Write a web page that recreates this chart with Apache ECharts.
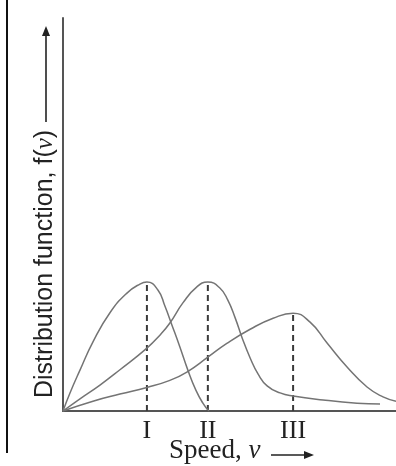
<!DOCTYPE html>
<html>
<head>
<meta charset="utf-8">
<script src="https://cdn.jsdelivr.net/npm/echarts@6/dist/echarts.min.js"></script>
<style>
html,body{margin:0;padding:0;background:#fff;}
#chart{width:396px;height:466px;}
</style>
</head>
<body>
<div id="chart"></div>
<script>
// Curve I
const speedI = [0, 2.1, 5.1, 9.0, 14.1, 19.2, 23.1, 25.2, 28.5, 30.6, 32.7, 35.1, 37.5, 39.9, 42.0, 43.8];
const fI     = [0, 4.6, 10.4, 17.6, 25.0, 30.0, 32.3, 32.8, 30.8, 26.7, 21.9, 16.3, 10.4, 5.3, 2.0, 0];
// Curve II
const speedII = [0, 5.1, 11.1, 17.1, 25.2, 29.1, 32.1, 36.0, 40.2, 43.5, 47.1, 49.5, 51.7, 53.8, 56.2, 58.6, 61.3, 65.2, 69.1, 78.1, 88.3, 95.2];
const fII     = [0, 3.1, 6.6, 10.5, 16.0, 19.3, 22.4, 27.5, 31.6, 32.8, 31.3, 28.2, 23.7, 18.6, 13.5, 9.4, 6.4, 4.6, 3.8, 2.8, 2.0, 1.8];
// Curve III
const speedIII = [0, 9.0, 17.1, 25.2, 32.1, 37.2, 43.5, 49.2, 56.2, 63.1, 69.1, 74.2, 79.3, 85.3, 91.3, 96.1, 100];
const fIII     = [0, 2.5, 4.3, 6.0, 7.8, 9.9, 13.7, 17.2, 20.8, 23.6, 24.9, 22.6, 17.3, 11.2, 6.1, 3.6, 2.5];
// Tick labels (one per curve, at each curve's peak)
const tickLabels = ['I', 'II', 'III'];

const curves = [[speedI, fI], [speedII, fII], [speedIII, fIII]];
const peaks = curves.map(([xs, ys]) => {
  let k = 0;
  ys.forEach((v, i) => { if (v > ys[k]) k = i; });
  return [xs[k], ys[k]];
});
const peakX = peaks.map(p => p[0]);

const curveColor = '#747474';
const series = [];
curves.forEach(([xs, ys]) => {
  series.push({
    type: 'line',
    data: xs.map((x, i) => [x, ys[i]]),
    smooth: 0.5,
    showSymbol: false,
    lineStyle: { color: curveColor, width: 1.5 },
    silent: true,
    z: 3
  });
});
peaks.forEach(p => {
  series.push({
    type: 'line',
    data: [[p[0], 0], [p[0], p[1]]],
    showSymbol: false,
    lineStyle: { color: '#3a3a3a', width: 2, type: [6, 4] },
    silent: true,
    z: 2
  });
});

const chart = echarts.init(document.getElementById('chart'), null, { renderer: 'canvas' });
chart.setOption({
  animation: false,
  backgroundColor: '#fff',
  grid: { left: 63, right: 0, top: 18, bottom: 55, containLabel: false },
  xAxis: {
    type: 'value', min: 0, max: 100,
    axisLine: { show: true, lineStyle: { color: '#555', width: 2 } },
    axisTick: { show: false },
    splitLine: { show: false },
    axisLabel: {
      show: true,
      customValues: peakX,
      formatter: v => tickLabels[peakX.indexOf(v)] || '',
      fontFamily: 'Liberation Serif',
      fontSize: 26,
      color: '#222',
      margin: 7
    }
  },
  yAxis: {
    type: 'value', min: 0, max: 100,
    axisLine: { show: true, lineStyle: { color: '#555', width: 2 } },
    axisTick: { show: false },
    splitLine: { show: false },
    axisLabel: { show: false }
  },
  series: series,
  graphic: [
    { type: 'line', shape: { x1: 7, y1: 0, x2: 7, y2: 453 }, style: { stroke: '#111', lineWidth: 2 } },
    {
      type: 'text', x: 45, y: 398, rotation: Math.PI / 2,
      style: {
        text: '{a|Distribution function, f(}{b|v}{a|)}',
        textAlign: 'left', textVerticalAlign: 'middle',
        rich: {
          a: { fontFamily: 'Liberation Sans', fontSize: 25, fill: '#222' },
          b: { fontFamily: 'Liberation Serif', fontStyle: 'italic', fontSize: 25, fill: '#222' }
        }
      }
    },
    { type: 'line', shape: { x1: 46, y1: 122, x2: 46, y2: 34 }, style: { stroke: '#222', lineWidth: 1.6 } },
    { type: 'polygon', shape: { points: [[46, 26], [42, 36], [50, 36]] }, style: { fill: '#222' } },
    {
      type: 'text', x: 169, y: 451,
      style: {
        text: '{a|Speed, }{b|v}',
        textAlign: 'left', textVerticalAlign: 'middle',
        rich: {
          a: { fontFamily: 'Liberation Serif', fontSize: 27, fill: '#222' },
          b: { fontFamily: 'Liberation Serif', fontStyle: 'italic', fontSize: 27, fill: '#222' }
        }
      }
    },
    { type: 'line', shape: { x1: 271, y1: 455, x2: 306, y2: 455 }, style: { stroke: '#222', lineWidth: 1.6 } },
    { type: 'polygon', shape: { points: [[314, 455], [304, 451], [304, 459]] }, style: { fill: '#222' } }
  ]
});
</script>
</body>
</html>
